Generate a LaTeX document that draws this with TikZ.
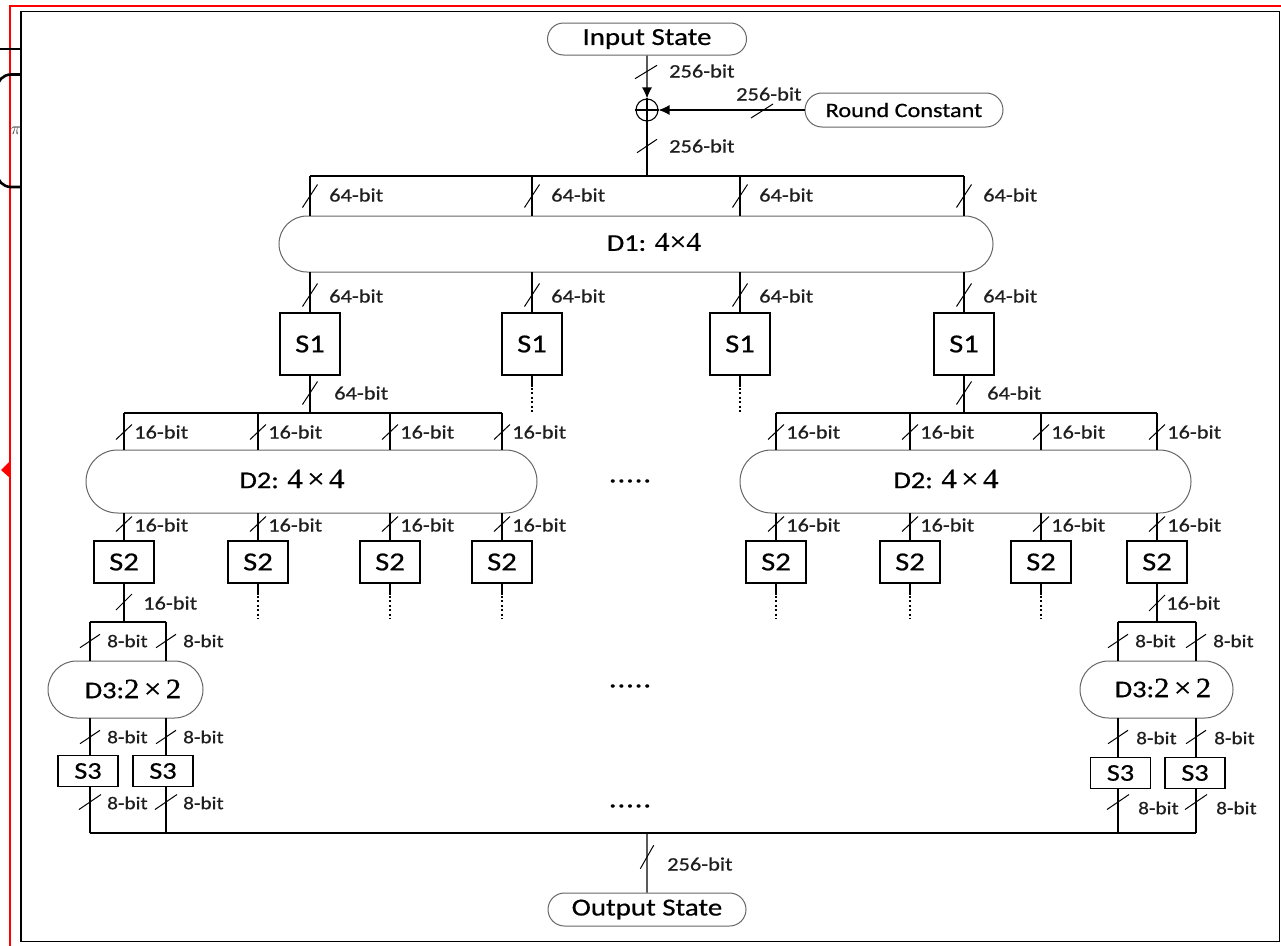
\documentclass[tikz,border=0pt]{standalone}
\usepackage{fontspec}
\setmainfont{Carlito}[FakeStretch=1.18,FakeBold=0.6]
\newfontfamily\numfont{Liberation Serif}[FakeStretch=1.1,FakeBold=0.6]
\usetikzlibrary{arrows.meta,shapes.misc}

\newcommand\fs[1]{\fontsize{#1}{#1}\selectfont}
% bus-width tick: centre (#1,#2), half extents #3 (x) and #4 (y)
\newcommand\busmark[4]{\draw[markln] (#1-#3,#2+#4) -- (#1+#3,#2-#4);}
\newcommand\tms{\hspace{0.16em}×\hspace{0.16em}}

\begin{document}
\begin{tikzpicture}[x=1pt,y=-1pt,
  wire/.style={line width=1.2pt, black},
  markln/.style={line width=1pt, black},
  stad/.style={rounded rectangle, draw=black!60, line width=1pt, inner sep=0pt},
  sbox/.style={draw, line width=1.3pt, inner sep=0pt, font=\fs{26}},
  sboxs/.style={draw, line width=1.3pt, inner sep=0pt, font=\fs{24}, minimum width=60pt, minimum height=31pt},
  bits/.style={anchor=west, inner sep=0pt, font=\fs{19}, text=black!88},
  bitsb/.style={anchor=west, inner sep=0pt, font=\fs{18}, text=black!88},
  dtext/.style={inner sep=0pt, font=\fs{24}},
  dotwire/.style={line width=1.2pt, dash pattern=on 2pt off 2.5pt},
  tip/.style={-{Latex[length=11pt,width=10pt]}},
  dots/.style={inner sep=0pt, font=\fs{21}\bfseries}
]
\useasboundingbox (0,0) rectangle (1281,945);

% page frames and the neighbouring figure's edge
\begin{scope}
  \clip (0,0) rectangle (1281,945);
  \draw[red, line width=2pt] (10,5.5) rectangle (1300,960);
  \draw[black, line width=1.4pt] (21,11.5) rectangle (1279.5,941.5);
  \fill[red] (1,470) -- (10,461) -- (10,478) -- cycle;
\end{scope}
\begin{scope}
  \clip (0,0) rectangle (21,945);
  \draw[line width=1.3pt] (0,49) -- (21,49);
  \draw[line width=2.6pt, rounded corners=14pt] (40,74.5) -- (-3,74.5) -- (-3,187) -- (40,187);
  \node[inner sep=0pt, font=\fs{17}, text=black!80] (pi) at (16,131) {$\pi$};
\end{scope}

% input, round constant and xor
\node[stad, minimum width=199pt, minimum height=32pt, font=\fs{24.5}] (in) at (647,39) {Input State};
\node[circle, draw, line width=1.1pt, minimum size=22pt, inner sep=0pt] (xor) at (647,110) {};
\draw[line width=1.1pt] (xor.north) -- (xor.south) (xor.west) -- (xor.east);
\node[stad, minimum width=198pt, minimum height=34pt, font=\fs{20.5}] (rc) at (904,110) {Round Constant};
\draw[wire,tip] (in) -- (xor);
\draw[wire,tip] (rc) -- (xor);
\busmark{646}{72}{11}{6.7}
\node[bits] (w256a) at (669,71) {256-bit};
\busmark{762}{111}{11}{7}
\node[bits] (w256b) at (736,94) {256-bit};
\busmark{647}{146}{10}{6.7}
\node[bits] (w256c) at (669,146) {256-bit};

% first layer: D1 and S1
\coordinate (b1) at (647,176);
\draw[wire] (xor) -- (b1);
\draw[wire] (310,176) -- (964,176);
\node[stad, minimum width=714pt, minimum height=56pt] (d1) at (636,244) {};
\node[dtext] (d1t) at (654,242) {D1: {\numfont\fs{27}4×4}};
\foreach \x [count=\i] in {310,532,740,964} {
  \draw[wire] (\x,176) -- (\x,216);
  \busmark{\x}{196}{7.5}{11.5}
  \node[bits] (wa\i) at (\x+19,195) {64-bit};
  \node[sbox, minimum width=60pt, minimum height=62pt] (s1\i) at (\x,344) {S1};
  \draw[wire] (\x,272) -- (s1\i);
  \busmark{\x}{295}{7.5}{11.5}
  \node[bits] (wb\i) at (\x+19,296) {64-bit};
}
\draw[wire] (s11) -- (310,413);
\busmark{310}{393}{7.5}{11.5}
\node[bits] (wc1) at (334,393) {64-bit};
\draw[wire] (s14) -- (964,413);
\busmark{964}{393}{7.5}{11.5}
\node[bits] (wc4) at (987,393) {64-bit};
\foreach \n in {s12,s13} {
  \draw[wire] (\n.south) -- ++(0,11);
  \draw[dotwire] (\n.south) ++(0,12) -- ++(0,25);
}

% second layer, left: D2 and S2
\draw[wire] (124,413) -- (502,413);
\node[stad, minimum width=451pt, minimum height=63pt] (d2a) at (311.5,481.5) {};
\node[dtext] (d2at) at (292,479) {D2: {\numfont\fs{28}4\tms4}};
\foreach \x [count=\i] in {124,258,390,502} {
  \draw[wire] (\x,413) -- (\x,450);
  \busmark{\x}{432}{8}{7.5}
  \node[bits] (wd\i) at (\x+10,432) {16-bit};
  \node[sbox, minimum width=60pt, minimum height=42pt] (s2a\i) at (\x,562) {S2};
  \draw[wire] (\x,513) -- (s2a\i);
  \busmark{\x}{524}{8}{7.5}
  \node[bits] (we\i) at (\x+10,525) {16-bit};
}
\draw[wire] (s2a1) -- (124,622);
\busmark{124}{602}{8}{8}
\node[bits] (wf1) at (143,603) {16-bit};
\foreach \n in {s2a2,s2a3,s2a4} {
  \draw[wire] (\n.south) -- ++(0,11);
  \draw[dotwire] (\n.south) ++(0,12) -- ++(0,23);
}

% second layer, right: D2 and S2
\draw[wire] (776,413) -- (1157,413);
\node[stad, minimum width=451pt, minimum height=63pt] (d2b) at (965.5,481.5) {};
\node[dtext] (d2bt) at (946,479) {D2: {\numfont\fs{28}4\tms4}};
\foreach \x [count=\i] in {776,910,1041,1157} {
  \draw[wire] (\x,413) -- (\x,450);
  \busmark{\x}{432}{8}{7.5}
  \node[bits] (wg\i) at (\x+10,432) {16-bit};
  \node[sbox, minimum width=60pt, minimum height=42pt] (s2b\i) at (\x,562) {S2};
  \draw[wire] (\x,513) -- (s2b\i);
  \busmark{\x}{524}{8}{7.5}
  \node[bits] (wh\i) at (\x+10,525) {16-bit};
}
\draw[wire] (s2b4) -- (1157,622);
\busmark{1157}{603}{8}{8}
\node[bits] (wi4) at (1166,603) {16-bit};
\foreach \n in {s2b1,s2b2,s2b3} {
  \draw[wire] (\n.south) -- ++(0,11);
  \draw[dotwire] (\n.south) ++(0,12) -- ++(0,23);
}

% third layer, left: D3 and S3
\draw[wire] (90,622) -- (166,622);
\node[stad, minimum width=155pt, minimum height=57pt] (d3a) at (125.5,689.5) {};
\node[dtext] (d3at) at (133,689) {D3:{\numfont\fs{28}2\tms2}};
\node[sboxs] (s3a1) at (88,771) {S3};
\node[sboxs] (s3a2) at (163,771) {S3};
\foreach \x [count=\i] in {90,166} {
  \draw[wire] (\x,622) -- (\x,661);
  \busmark{\x}{641}{10}{6.7}
  \node[bitsb] (wj\i) at (\x+17,641) {8-bit};
  \draw[wire] (\x,718) -- (\x,755);
  \busmark{\x}{737}{10}{6.7}
  \node[bitsb] (wk\i) at (\x+17,737) {8-bit};
  \draw[wire] (\x,787) -- (\x,833);
  \busmark{\x}{802}{11}{7.5}
  \node[bitsb] (wl\i) at (\x+17,803) {8-bit};
}

% third layer, right: D3 and S3
\draw[wire] (1118,622) -- (1196,622);
\node[stad, minimum width=153pt, minimum height=57pt] (d3b) at (1156.5,689.5) {};
\node[dtext] (d3bt) at (1163,688) {D3:{\numfont\fs{28}2\tms2}};
\node[sboxs] (s3b1) at (1120.5,773) {S3};
\node[sboxs] (s3b2) at (1195,773) {S3};
\foreach \x [count=\i] in {1118,1196} {
  \draw[wire] (\x,622) -- (\x,661);
  \busmark{\x}{641}{10}{6.7}
  \node[bitsb] (wm\i) at (\x+17,641) {8-bit};
  \draw[wire] (\x,718) -- (\x,758);
  \busmark{\x}{737}{10}{6.7}
  \node[bitsb] (wn\i) at (\x+18,738) {8-bit};
  \draw[wire] (\x,788) -- (\x,833);
  \busmark{\x}{802}{11}{7.5}
  \node[bitsb] (wo\i) at (\x+20,808) {8-bit};
}

% elided columns
\node[dots] (dots1) at (630,481) {.\hspace{2pt}.\hspace{2pt}.\hspace{2pt}.\hspace{2pt}.};
\node[dots] (dots2) at (630,686) {.\hspace{2pt}.\hspace{2pt}.\hspace{2pt}.\hspace{2pt}.};
\node[dots] (dots3) at (630,806) {.\hspace{2pt}.\hspace{2pt}.\hspace{2pt}.\hspace{2pt}.};

% output
\draw[wire] (90,833) -- (1196,833);
\coordinate (b9) at (647,833);
\node[stad, minimum width=198pt, minimum height=33pt, font=\fs{24.5}] (out) at (647,909.5) {Output State};
\draw[wire] (b9) -- (out);
\busmark{647}{857}{6.7}{11.7}
\node[bits] (w256d) at (667,864) {256-bit};
\end{tikzpicture}
\end{document}
